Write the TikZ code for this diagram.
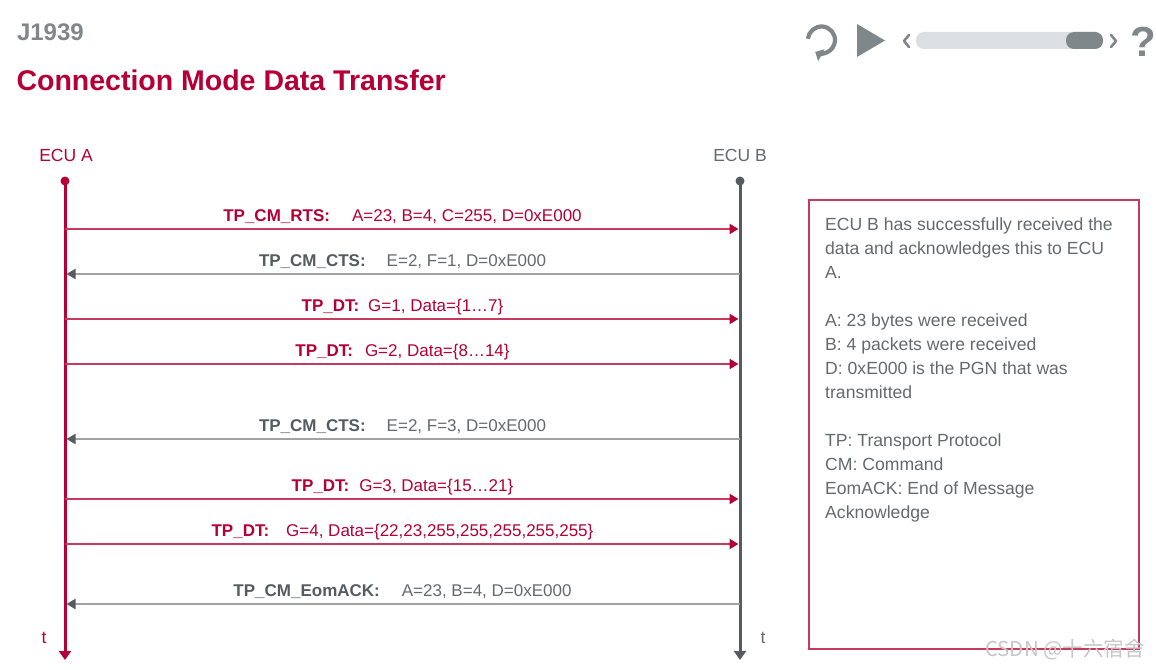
\documentclass[tikz,border=0pt]{standalone}
\usepackage{fontspec}
\setmainfont{Liberation Sans}
\newfontfamily\cjkfont{Noto Sans CJK SC}
\usetikzlibrary{arrows.meta}

\definecolor{vred}{HTML}{B40036}
\definecolor{lred}{HTML}{C73A5D}
\definecolor{dgray}{HTML}{565B5F}
\definecolor{tgray}{HTML}{66696C}
\definecolor{lgray}{HTML}{A2A2A2}
\definecolor{igray}{HTML}{80878A}
\definecolor{bargray}{HTML}{DCDFE1}

% bold message name, gap, parameters
\newcommand{\msgtext}[3]{\textbf{#1}\hspace{#2pt}#3}

\begin{document}
\begin{tikzpicture}[x=1pt, y=-1pt,
    lifeA/.style={draw=vred, line width=3pt, -{Triangle[length=9pt,width=12pt]}},
    lifeB/.style={draw=dgray, line width=3pt, -{Triangle[length=9pt,width=12pt]}},
    dot/.style={circle, inner sep=0pt, minimum size=9pt},
    sendA/.style={draw=lred, line width=2pt, shorten >=1.5pt,
        -{Triangle[length=9pt,width=10pt,color=vred]}},
    sendB/.style={draw=lgray, line width=2pt, shorten >=1.5pt,
        -{Triangle[length=9pt,width=10pt,color=dgray]}},
    labA/.style={midway, yshift=12pt, inner sep=0pt, text=vred,
        font=\fontsize{17}{18}\selectfont},
    labB/.style={midway, yshift=12pt, inner sep=0pt, text=tgray,
        font=\fontsize{17}{18}\selectfont},
    ecu/.style={font=\fontsize{17.5}{20}\selectfont}]

  \useasboundingbox (0,0) rectangle (1156,669);

  % header
  \node[anchor=west, text=igray, font=\fontsize{24}{26}\bfseries] (series) at (13.5,32) {J1939};
  \node[anchor=west, text=vred, font=\fontsize{28.5}{32}\bfseries] (title) at (13,80) {Connection Mode Data Transfer};

  % player controls
  \draw[igray, line width=4.2pt, -{Triangle[length=7pt,width=13pt]}]
    (821.5,40) ++(185:13.5) arc[start angle=185, end angle=478, radius=13.5];
  \fill[igray] (857,24) -- (885,40.5) -- (857,57) -- cycle;
  \draw[igray, line width=2.6pt, line cap=round, line join=round] (909,35) -- (904,41) -- (909,47);
  \fill[bargray, rounded corners=8pt] (916,32) rectangle (1103,49);
  \fill[igray, rounded corners=8pt] (1066,32) rectangle (1103,49);
  \draw[igray, line width=2.6pt, line cap=round, line join=round] (1111,35) -- (1116,41) -- (1111,47);
  \node[text=igray, font=\fontsize{42}{42}\bfseries] (help) at (1143,42) {?};

  % lifelines
  \node[ecu, text=vred] (nameA) at (66,155) {ECU A};
  \node[ecu, text=tgray] (nameB) at (740,155) {ECU B};
  \node[dot, fill=vred] (ecuA) at (65,181) {};
  \node[dot, fill=dgray] (ecuB) at (740,181) {};
  \coordinate (endA) at (65,660);
  \coordinate (endB) at (740,660);
  \draw[lifeA] (ecuA.center) -- (endA);
  \draw[lifeB] (ecuB.center) -- (endB);
  \node[ecu, text=vred] (tA) at (44,638) {t};
  \node[ecu, text=tgray] (tB) at (763,638) {t};

  % messages
  \coordinate (m1) at (0,229);
  \coordinate (m2) at (0,274);
  \coordinate (m3) at (0,319);
  \coordinate (m4) at (0,364);
  \coordinate (m5) at (0,439);
  \coordinate (m6) at (0,499);
  \coordinate (m7) at (0,544);
  \coordinate (m8) at (0,604);
  \draw[sendA] (ecuA |- m1) -- node[labA] {\msgtext{TP\_CM\_RTS:}{22}{A=23, B=4, C=255, D=0xE000}} (ecuB |- m1);
  \draw[sendB] (ecuB |- m2) -- node[labB] {\msgtext{\textcolor{dgray}{TP\_CM\_CTS:}}{21}{E=2, F=1, D=0xE000}} (ecuA |- m2);
  \draw[sendA] (ecuA |- m3) -- node[labA] {\msgtext{TP\_DT:}{9}{G=1, Data=\{1…7\}}} (ecuB |- m3);
  \draw[sendA] (ecuA |- m4) -- node[labA] {\msgtext{TP\_DT:}{12}{G=2, Data=\{8…14\}}} (ecuB |- m4);
  \draw[sendB] (ecuB |- m5) -- node[labB] {\msgtext{\textcolor{dgray}{TP\_CM\_CTS:}}{21}{E=2, F=3, D=0xE000}} (ecuA |- m5);
  \draw[sendA] (ecuA |- m6) -- node[labA] {\msgtext{TP\_DT:}{10}{G=3, Data=\{15…21\}}} (ecuB |- m6);
  \draw[sendA] (ecuA |- m7) -- node[labA] {\msgtext{TP\_DT:}{17}{G=4, Data=\{22,23,255,255,255,255,255\}}} (ecuB |- m7);
  \draw[sendB] (ecuB |- m8) -- node[labB] {\msgtext{\textcolor{dgray}{TP\_CM\_EomACK:}}{22}{A=23, B=4, D=0xE000}} (ecuA |- m8);

  % explanation
  \node[draw=lred, line width=2pt, anchor=north west, minimum width=330pt,
        minimum height=449pt] (info) at (808,199) {};
  \node[anchor=north west, inner sep=0pt, align=left, text=tgray,
        font=\fontsize{17.6}{24}\selectfont] (infotext) at (825,218)
    {ECU B has successfully received the\\
     data and acknowledges this to ECU\\
     A.\\[24pt]
     A: 23 bytes were received\\
     B: 4 packets were received\\
     D: 0xE000 is the PGN that was\\
     transmitted\\[24pt]
     TP: Transport Protocol\\
     CM: Command\\
     EomACK: End of Message\\
     Acknowledge};

  \node[text=gray!45, font=\fontsize{20.5}{20}\cjkfont] (mark) at (1065,650) {CSDN @十六宿舍};
\end{tikzpicture}
\end{document}
